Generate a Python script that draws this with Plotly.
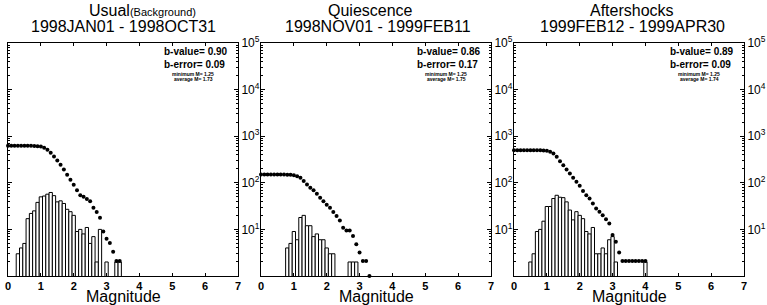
import plotly.graph_objects as go

W, H = 767, 305

# ---------------- data ----------------
titles_top = ["Usual", "Quiescence", "Aftershocks"]
title_suffix = ["(Background)", "", ""]
periods = ["1998JAN01 - 1998OCT31", "1998NOV01 - 1999FEB11", "1999FEB12 - 1999APR30"]
b_values = ["0.90", "0.86", "0.89"]
b_errors = ["0.09", "0.17", "0.09"]
min_mags = ["1.25", "1.25", "1.25"]
avg_mags = ["1.73", "1.75", "1.74"]

x_ticks = [0, 1, 2, 3, 4, 5, 6, 7]
y_major = [1e1, 1e2, 1e3, 1e4, 1e5]
y_major_text = ["10<sup>1</sup>", "10<sup>2</sup>", "10<sup>3</sup>", "10<sup>4</sup>", "10<sup>5</sup>"]

# Panel 1: Usual (Background)
hist1_m = [0.3, 0.4, 0.5, 0.6, 0.7, 0.8, 0.9, 1.0, 1.1, 1.2, 1.3, 1.4, 1.5, 1.6, 1.7, 1.8, 1.9,
           2.0, 2.1, 2.2, 2.3, 2.4, 2.5, 2.6, 2.7, 2.8, 3.0, 3.3, 3.4]
hist1_n = [3, 4, 5, 17, 22, 25, 38, 50, 52, 57, 62, 53, 39, 41, 36, 27, 24,
           20, 9, 10, 8, 11, 5, 7, 2, 10, 2, 2, 2]
cum1_m = [0.0, 0.1, 0.2, 0.3, 0.4, 0.5, 0.6, 0.7, 0.8, 0.9,
          1.0, 1.1, 1.2, 1.3, 1.4, 1.5, 1.6, 1.7, 1.8, 1.9,
          2.0, 2.1, 2.2, 2.3, 2.4, 2.5, 2.6, 2.7, 2.8, 2.9,
          3.0, 3.1, 3.2, 3.3, 3.4]
cum1_n = [620, 620, 620, 620, 620, 620, 620, 620, 618, 612,
          601, 562, 509, 439, 367, 301, 243, 193, 148, 116,
          91, 69, 54, 50, 45, 40, 29, 23.5, 17.8, 9,
          6.3, 5.1, 3.3, 2.1, 2.1]

# Panel 2: Quiescence
hist2_m = [0.8, 0.9, 1.0, 1.1, 1.2, 1.3, 1.4, 1.5, 1.6, 1.7, 1.8, 1.9, 2.0, 2.1, 2.2, 2.7, 2.8, 2.9]
hist2_n = [4, 5, 9, 6, 18, 20, 12, 12, 7, 8, 6, 6, 4, 3, 3, 2, 2, 2]
cum2_m = [0.0, 0.1, 0.2, 0.3, 0.4, 0.5, 0.6, 0.7, 0.8, 0.9,
          1.0, 1.1, 1.2, 1.3, 1.4, 1.5, 1.6, 1.7, 1.8, 1.9,
          2.0, 2.1, 2.2, 2.3, 2.4, 2.5, 2.6, 2.7, 2.8, 2.9,
          3.0, 3.1, 3.2, 3.3]
cum2_n = [150, 150, 150, 150, 150, 150, 150, 150, 149, 148,
          146, 139, 128, 109, 92, 78, 69, 58, 48, 40,
          34, 29, 23.5, 19.3, 15.6, 10.9, 9.5, 9.5, 7.2, 4.8,
          3.2, 2.1, 2.1, 1]

# Panel 3: Aftershocks
hist3_m = [0.5, 0.6, 0.7, 0.8, 0.9, 1.0, 1.1, 1.2, 1.3, 1.4, 1.5, 1.6, 1.7, 1.8, 1.9,
           2.0, 2.1, 2.2, 2.3, 2.4, 2.5, 2.6, 2.7, 2.8, 2.9, 3.0, 3.1, 4.0]
hist3_n = [2, 3, 9, 10, 15, 31, 31, 46, 54, 49, 48, 39, 26, 16, 24,
           20, 17, 9, 8, 11, 3, 3, 4, 3, 6, 7, 2, 2]
cum3_m = [0.0, 0.1, 0.2, 0.3, 0.4, 0.5, 0.6, 0.7, 0.8, 0.9,
          1.0, 1.1, 1.2, 1.3, 1.4, 1.5, 1.6, 1.7, 1.8, 1.9,
          2.0, 2.1, 2.2, 2.3, 2.4, 2.5, 2.6, 2.7, 2.8, 2.9,
          3.0, 3.1, 3.2, 3.3, 3.4, 3.5, 3.6, 3.7, 3.8, 3.9, 4.0]
cum3_n = [500, 500, 500, 500, 500, 500, 500, 500, 500, 495,
          485, 462, 425, 361, 291, 239, 193, 158, 128, 105,
          86, 67, 54, 46, 36, 28, 24, 20, 16.6, 13.4,
          7.6, 5.4, 3.2, 2.1, 2.1, 2.1, 2.1, 2.1, 2.1, 2.1, 2.1]

hists = [(hist1_m, hist1_n), (hist2_m, hist2_n), (hist3_m, hist3_n)]
cums = [(cum1_m, cum1_n), (cum2_m, cum2_n), (cum3_m, cum3_n)]

# ---------------- layout geometry (pixels) ----------------
panel_left = [8, 261, 514]
panel_w = 230
plot_top, plot_bottom = 43, 276
title1_x = [142, 370, 632]
title2_x = [123, 378, 632]

def px(x):
    return x / W

def py(y):
    return 1 - y / H

FONT = "Liberation Sans, Arial, sans-serif"

fig = go.Figure()
layout_axes = {}
annotations = []
minor_vals = [k * 10 ** e for e in range(0, 5) for k in range(2, 10)]

for i in range(3):
    sx = "" if i == 0 else str(i + 1)
    xa, ya = "x" + sx, "y" + sx
    hm, hn = hists[i]
    cm, cn = cums[i]
    fig.add_trace(go.Bar(x=hm, y=hn, width=0.1,
                         marker=dict(color="white", line=dict(color="black", width=1)),
                         xaxis=xa, yaxis=ya, showlegend=False))
    fig.add_trace(go.Scatter(x=cm, y=cn, mode="markers",
                             marker=dict(size=4, color="black"),
                             cliponaxis=False, xaxis=xa, yaxis=ya, showlegend=False))
    l = panel_left[i]
    layout_axes["xaxis" + sx] = dict(
        domain=[px(l), px(l + panel_w)], range=[0, 7], anchor=ya,
        tickmode="array", tickvals=x_ticks, ticktext=[str(t) for t in x_ticks],
        ticks="inside", ticklen=3, tickcolor="black",
        showline=True, linecolor="black", linewidth=1, mirror="allticks",
        showgrid=False, zeroline=False,
        tickfont=dict(family=FONT, size=11, color="black", weight="bold"),
        ticklabelstandoff=0,
    )
    layout_axes["yaxis" + sx] = dict(
        domain=[py(plot_bottom), py(plot_top)], type="log", range=[0, 5], anchor=xa,
        side="right", tickmode="array", tickvals=y_major, ticktext=y_major_text,
        ticks="inside", ticklen=4, tickcolor="black",
        minor=dict(tickmode="array", tickvals=minor_vals, ticks="inside", ticklen=2,
                   tickcolor="black", showgrid=False),
        showline=True, linecolor="black", linewidth=1, mirror="allticks",
        showgrid=False, zeroline=False,
        tickfont=dict(family=FONT, size=12, color="black"),
        ticklabelstandoff=0,
    )
    # titles
    t1 = titles_top[i]
    if title_suffix[i]:
        t1 += "<span style='font-size:11px'>" + title_suffix[i] + "</span>"
    annotations.append(dict(text=t1, x=px(title1_x[i]), y=py(11), xref="paper", yref="paper",
                            xanchor="center", yanchor="middle", showarrow=False,
                            font=dict(family=FONT, size=16, color="black")))
    annotations.append(dict(text=periods[i], x=px(title2_x[i]), y=py(26), xref="paper", yref="paper",
                            xanchor="center", yanchor="middle", showarrow=False,
                            font=dict(family=FONT, size=16, color="black")))
    # stats
    sx0 = l + 154
    annotations.append(dict(text="<b>b-value= " + b_values[i] + "</b>", x=px(sx0), y=py(51),
                            xref="paper", yref="paper", xanchor="left", yanchor="middle",
                            showarrow=False, font=dict(family=FONT, size=10, color="black")))
    annotations.append(dict(text="<b>b-error= " + b_errors[i] + "</b>", x=px(sx0), y=py(64),
                            xref="paper", yref="paper", xanchor="left", yanchor="middle",
                            showarrow=False, font=dict(family=FONT, size=10, color="black")))
    annotations.append(dict(text="<b>minimum M= " + min_mags[i] + "</b>", x=px(l + 185), y=py(74),
                            xref="paper", yref="paper", xanchor="center", yanchor="middle",
                            showarrow=False, font=dict(family=FONT, size=5, color="black")))
    annotations.append(dict(text="<b>average M= " + avg_mags[i] + "</b>", x=px(l + 185), y=py(79),
                            xref="paper", yref="paper", xanchor="center", yanchor="middle",
                            showarrow=False, font=dict(family=FONT, size=5, color="black")))
    # x-axis title
    annotations.append(dict(text="Magnitude", x=px(l + panel_w / 2), y=py(296), xref="paper", yref="paper",
                            xanchor="center", yanchor="middle", showarrow=False,
                            font=dict(family=FONT, size=16, color="black")))

fig.update_layout(
    width=W, height=H, margin=dict(l=0, r=0, t=0, b=0, autoexpand=False),
    paper_bgcolor="white", plot_bgcolor="white",
    annotations=annotations, font=dict(family=FONT, color="black"),
    **layout_axes,
)
fig.write_html(
    "out.html",
    config={"displayModeBar": False},
    post_script="document.documentElement.style.margin='0';document.body.style.margin='0';"
                "document.body.style.padding='0';document.body.style.overflow='hidden';",
)
